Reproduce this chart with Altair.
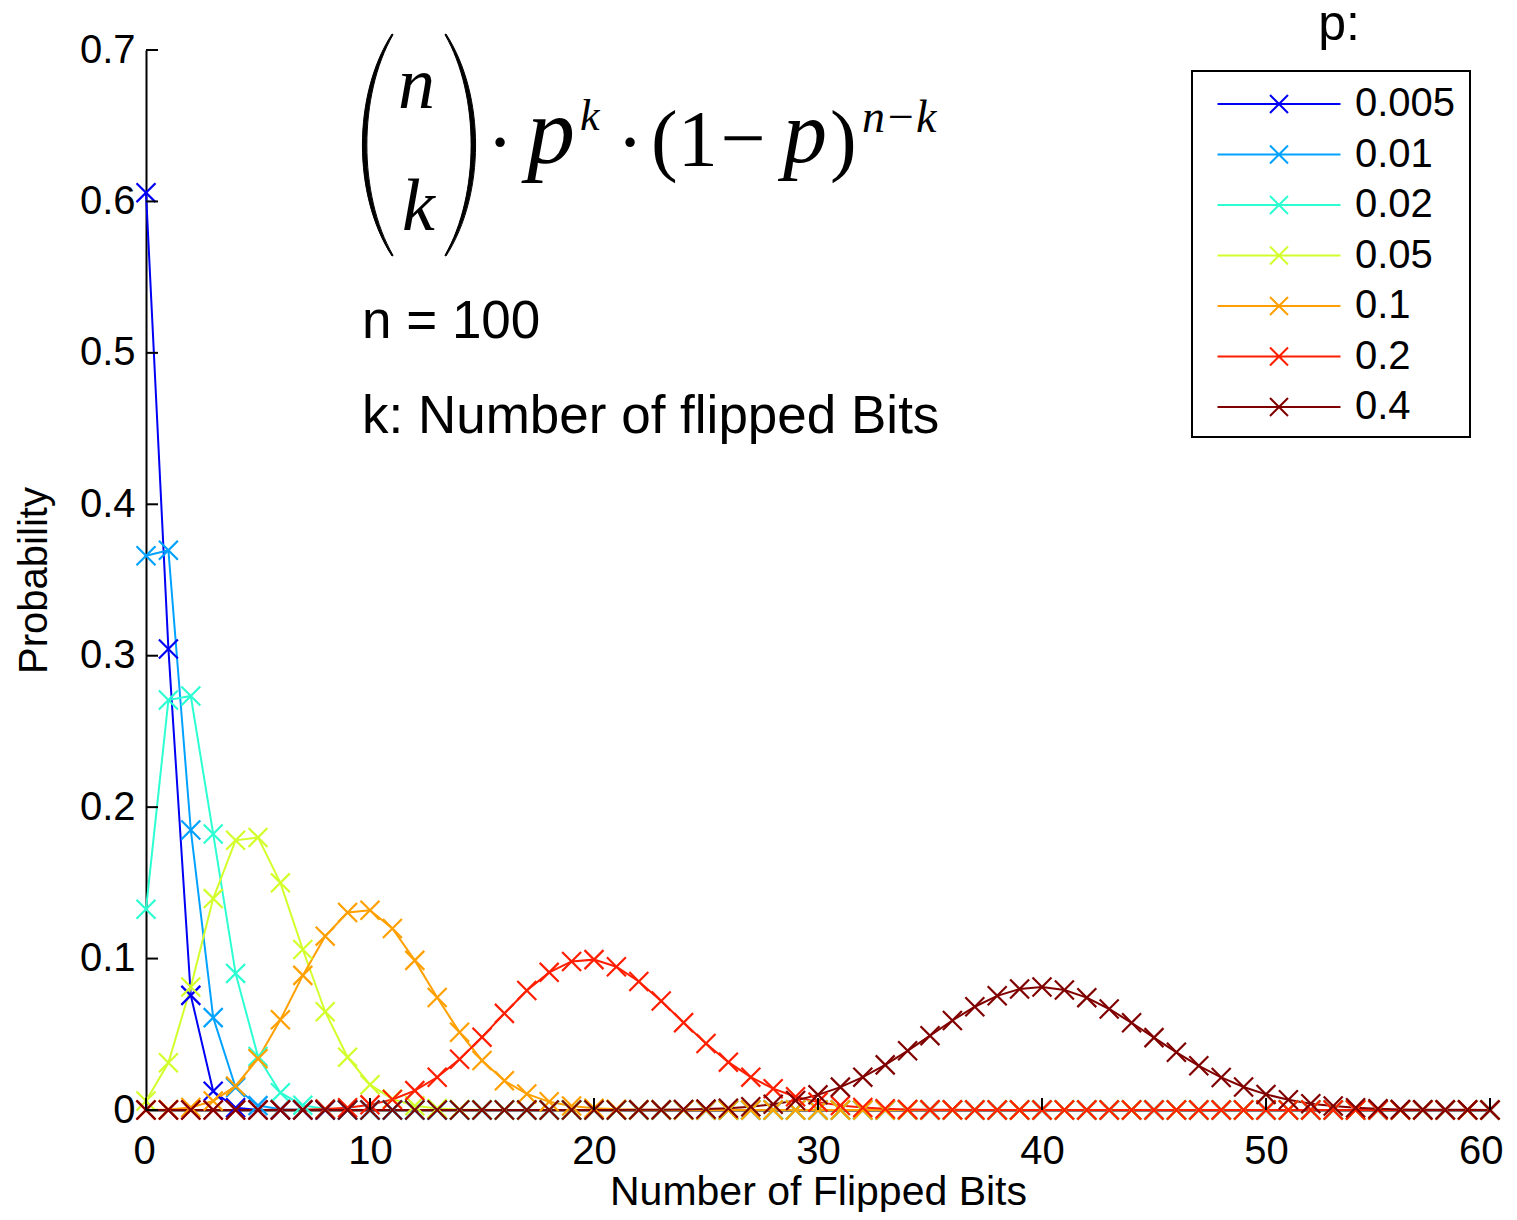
import altair as alt
import pandas as pd

# ---------------- data ----------------
K = [0, 1, 2, 3, 4, 5, 6, 7, 8, 9,
     10, 11, 12, 13, 14, 15, 16, 17, 18, 19,
     20, 21, 22, 23, 24, 25, 26, 27, 28, 29,
     30, 31, 32, 33, 34, 35, 36, 37, 38, 39,
     40, 41, 42, 43, 44, 45, 46, 47, 48, 49,
     50, 51, 52, 53, 54, 55, 56, 57, 58, 59,
     60]

P_LABELS = ["0.005", "0.01", "0.02", "0.05", "0.1", "0.2", "0.4"]
COLORS = ["#0000f5", "#00a2ff", "#2cffd2", "#d2ff2c", "#ffa000", "#ff1e00", "#800000"]

P_0005 = [0.6058, 0.3044, 0.0757, 0.0124, 0.0015, 0.0001, 0, 0, 0, 0,
          0, 0, 0, 0, 0, 0, 0, 0, 0, 0,
          0, 0, 0, 0, 0, 0, 0, 0, 0, 0,
          0, 0, 0, 0, 0, 0, 0, 0, 0, 0,
          0, 0, 0, 0, 0, 0, 0, 0, 0, 0,
          0, 0, 0, 0, 0, 0, 0, 0, 0, 0,
          0]
P_001 = [0.3660, 0.3697, 0.1849, 0.0610, 0.0149, 0.0029, 0.0005, 0.0001, 0, 0,
         0, 0, 0, 0, 0, 0, 0, 0, 0, 0,
         0, 0, 0, 0, 0, 0, 0, 0, 0, 0,
         0, 0, 0, 0, 0, 0, 0, 0, 0, 0,
         0, 0, 0, 0, 0, 0, 0, 0, 0, 0,
         0, 0, 0, 0, 0, 0, 0, 0, 0, 0,
         0]
P_002 = [0.1326, 0.2707, 0.2734, 0.1823, 0.0902, 0.0353, 0.0114, 0.0031, 0.0007, 0.0002,
         0, 0, 0, 0, 0, 0, 0, 0, 0, 0,
         0, 0, 0, 0, 0, 0, 0, 0, 0, 0,
         0, 0, 0, 0, 0, 0, 0, 0, 0, 0,
         0, 0, 0, 0, 0, 0, 0, 0, 0, 0,
         0, 0, 0, 0, 0, 0, 0, 0, 0, 0,
         0]
P_005 = [0.0059, 0.0312, 0.0812, 0.1396, 0.1781, 0.1800, 0.1500, 0.1060, 0.0649, 0.0349,
         0.0167, 0.0072, 0.0028, 0.0010, 0.0003, 0.0001, 0, 0, 0, 0,
         0, 0, 0, 0, 0, 0, 0, 0, 0, 0,
         0, 0, 0, 0, 0, 0, 0, 0, 0, 0,
         0, 0, 0, 0, 0, 0, 0, 0, 0, 0,
         0, 0, 0, 0, 0, 0, 0, 0, 0, 0,
         0]
P_01 = [0.0000, 0.0003, 0.0016, 0.0059, 0.0159, 0.0339, 0.0596, 0.0889, 0.1148, 0.1304,
        0.1319, 0.1199, 0.0988, 0.0743, 0.0513, 0.0327, 0.0193, 0.0106, 0.0054, 0.0026,
        0.0012, 0.0005, 0.0002, 0.0001, 0, 0, 0, 0, 0, 0,
        0, 0, 0, 0, 0, 0, 0, 0, 0, 0,
        0, 0, 0, 0, 0, 0, 0, 0, 0, 0,
        0, 0, 0, 0, 0, 0, 0, 0, 0, 0,
        0]
P_02 = [0, 0, 0, 0, 0, 0, 0.0001, 0.0002, 0.0006, 0.0015,
        0.0034, 0.0069, 0.0128, 0.0216, 0.0335, 0.0481, 0.0638, 0.0789, 0.0909, 0.0981,
        0.0993, 0.0946, 0.0849, 0.0720, 0.0577, 0.0439, 0.0316, 0.0217, 0.0141, 0.0088,
        0.0052, 0.0029, 0.0016, 0.0008, 0.0004, 0.0002, 0.0001, 0, 0, 0,
        0, 0, 0, 0, 0, 0, 0, 0, 0, 0,
        0, 0, 0, 0, 0, 0, 0, 0, 0, 0,
        0]
P_04 = [0, 0, 0, 0, 0, 0, 0, 0, 0, 0,
        0, 0, 0, 0, 0, 0, 0, 0, 0, 0,
        0, 0, 0.0001, 0.0001, 0.0003, 0.0006, 0.0012, 0.0022, 0.0038, 0.0063,
        0.0100, 0.0151, 0.0217, 0.0298, 0.0391, 0.0491, 0.0591, 0.0682, 0.0754, 0.0799,
        0.0812, 0.0792, 0.0742, 0.0667, 0.0576, 0.0478, 0.0381, 0.0292, 0.0215, 0.0152,
        0.0103, 0.0068, 0.0042, 0.0026, 0.0015, 0.0008, 0.0004, 0.0002, 0.0001, 0.0001,
        0.0000]

SERIES = [P_0005, P_001, P_002, P_005, P_01, P_02, P_04]

X_TICKS = [0, 10, 20, 30, 40, 50, 60]
Y_TICKS = [0, 0.1, 0.2, 0.3, 0.4, 0.5, 0.6, 0.7]

rows = []
for lab, vals in zip(P_LABELS, SERIES):
    for k, v in zip(K, vals):
        rows.append({"k": k, "prob": v, "p": lab})
df = pd.DataFrame(rows)

# ---------------- styling ----------------
W, H = 1344, 1060
FONT = "Liberation Sans"
SERIF = "Liberation Serif"
X_PATH = "M-1,-1L1,1M-1,1L1,-1"
LEG_PATH = "M-2.46,0H2.46M-0.36,-0.36L0.36,0.36M-0.36,0.36L0.36,-0.36"
LPAREN = "M0.135,-1C-0.22,-0.45 -0.22,0.45 0.135,1L0.145,0.995C-0.17,0.45 -0.17,-0.45 0.145,-0.995Z"
RPAREN = "M-0.135,-1C0.22,-0.45 0.22,0.45 -0.135,1L-0.145,0.995C0.17,0.45 0.17,-0.45 -0.145,-0.995Z"

xscale = alt.Scale(domain=[0, 60], nice=False, zero=False)
yscale = alt.Scale(domain=[0, 0.7], nice=False, zero=False)

x_axis = alt.Axis(values=X_TICKS, format="d", ticks=False, tickSize=0, domain=True,
                  domainColor="black", domainWidth=2, grid=False,
                  labelFont=FONT, labelFontSize=40, labelColor="black", labelPadding=21,
                  labelFlush=True, labelFlushOffset=13, labelOverlap=False,
                  title="Number of Flipped Bits", titleFont=FONT, titleFontSize=41,
                  titleFontWeight="normal", titleColor="black", titleY=94,
                  titleBaseline="alphabetic")
y_axis = alt.Axis(values=Y_TICKS, format="~g", ticks=False, tickSize=0, domain=True,
                  domainColor="black", domainWidth=2, grid=False,
                  labelFont=FONT, labelFontSize=40, labelColor="black", labelPadding=11,
                  labelFlush=False, labelOverlap=False,
                  title="Probability", titleFont=FONT, titleFontSize=40,
                  titleFontWeight="normal", titleColor="black", titleX=-100,
                  titleBaseline="alphabetic")

legend = alt.Legend(orient="none", legendX=1107, legendY=28, title=None,
                    symbolType=LEG_PATH, symbolSize=2500, symbolStrokeWidth=2,
                    symbolFillColor="transparent", symbolOpacity=1,
                    labelFont=FONT, labelFontSize=40, labelColor="black",
                    labelOffset=50, padding=0, rowPadding=4.5, labelLimit=0)

color = alt.Color("p:N", scale=alt.Scale(domain=P_LABELS, range=COLORS), legend=legend)

X_ENC = alt.X("k:Q", scale=xscale, axis=x_axis)
Y_ENC = alt.Y("prob:Q", scale=yscale, axis=y_axis)

lines = alt.Chart(df).mark_line(strokeWidth=2).encode(x=X_ENC, y=Y_ENC, color=color)
points = alt.Chart(df).mark_point(shape=X_PATH, size=360, filled=False,
                                  strokeWidth=2.2, opacity=1).encode(x=X_ENC, y=Y_ENC, color=color)

ytick = alt.Chart(pd.DataFrame({"prob": Y_TICKS})).mark_rule(color="black", strokeWidth=2).encode(
    y=Y_ENC, x=alt.value(0), x2=alt.value(12))
xtick = alt.Chart(pd.DataFrame({"k": X_TICKS})).mark_rule(color="black", strokeWidth=2).encode(
    x=X_ENC, y=alt.value(H), y2=alt.value(H - 12))

one = alt.Data(values=[{"a": 1}])

legend_box = alt.Chart(one).mark_rect(fill="white", stroke="black", strokeWidth=2).encode(
    x=alt.value(1046), x2=alt.value(1324), y=alt.value(21), y2=alt.value(387))


def txt(s, x, y, size, font=FONT, style="normal", align="left", baseline="alphabetic"):
    return alt.Chart(alt.Data(values=[{"t": s}])).mark_text(
        align=align, baseline=baseline, font=font, fontSize=size, fontStyle=style,
        color="black").encode(text="t:N", x=alt.value(x), y=alt.value(y))


def glyph(path, x, y, size):
    return alt.Chart(one).mark_point(shape=path, size=size, filled=True, color="black",
                                     stroke="black", strokeWidth=1, opacity=1).encode(
        x=alt.value(x), y=alt.value(y))


formula = [
    glyph(LPAREN, 231, 95, 49284),
    glyph(RPAREN, 315, 95, 49284),
    txt("n", 252, 58, 74, SERIF, "italic"),
    txt("k", 256, 180, 74, SERIF, "italic"),
    txt("·", 354, 95, 80, SERIF, "normal", "center", "middle"),
    txt("p", 381, 113, 96, SERIF, "italic"),
    txt("k", 434, 80, 44, SERIF, "italic"),
    txt("·", 484, 95, 80, SERIF, "normal", "center", "middle"),
    txt("(1", 505, 116, 80, SERIF),
    txt("−", 597, 91, 80, SERIF, "normal", "center", "middle"),
    txt("p", 637, 112, 88, SERIF, "italic"),
    txt(")", 684, 116, 80, SERIF),
    txt("n−k", 716, 82, 46, SERIF, "italic"),
    txt("n = 100", 216, 288, 53),
    txt("k: Number of flipped Bits", 216, 383, 53),
    txt("p:", 1193, -10, 50, FONT, "normal", "center"),
]

chart = alt.layer(lines, points, ytick, xtick, legend_box, *formula).properties(
    width=W, height=H,
    autosize=alt.AutoSizeParams(type="none"),
    padding={"left": 138, "top": 42, "right": 19, "bottom": 102},
).configure_view(stroke=None)

chart.save("out.html", embed_options={"renderer": "svg", "actions": False})
